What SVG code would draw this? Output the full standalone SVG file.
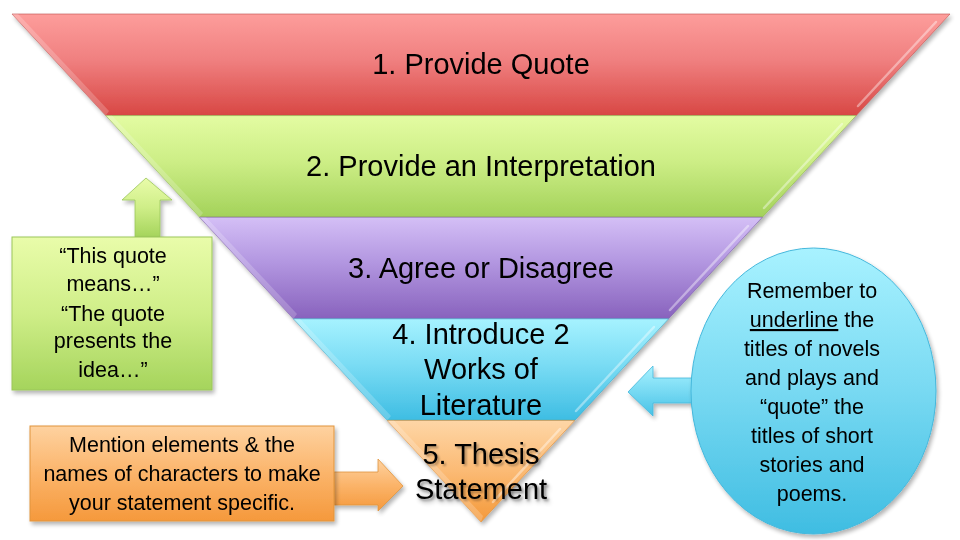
<svg xmlns="http://www.w3.org/2000/svg" width="960" height="540" viewBox="0 0 960 540">
<defs>
<linearGradient id="gRed" x1="0" y1="0" x2="0" y2="1"><stop offset="0" stop-color="#fd9d9b"/><stop offset="0.45" stop-color="#f08080"/><stop offset="1" stop-color="#d84744"/></linearGradient>
<linearGradient id="gGreen" x1="0" y1="0" x2="0" y2="1"><stop offset="0" stop-color="#e3fca2"/><stop offset="0.45" stop-color="#cdee86"/><stop offset="1" stop-color="#a3d25a"/></linearGradient>
<linearGradient id="gPurple" x1="0" y1="0" x2="0" y2="1"><stop offset="0" stop-color="#d4bff6"/><stop offset="0.45" stop-color="#b296e0"/><stop offset="1" stop-color="#8862bd"/></linearGradient>
<linearGradient id="gBlue" x1="0" y1="0" x2="0" y2="1"><stop offset="0" stop-color="#a6f2ff"/><stop offset="0.45" stop-color="#7adcf4"/><stop offset="1" stop-color="#3ebde3"/></linearGradient>
<linearGradient id="gOrange" x1="0" y1="0" x2="0" y2="1"><stop offset="0" stop-color="#fed6a6"/><stop offset="0.5" stop-color="#fbba74"/><stop offset="1" stop-color="#f4993a"/></linearGradient>
<linearGradient id="gGreenBox" x1="0" y1="0" x2="0" y2="1"><stop offset="0" stop-color="#e9fcaa"/><stop offset="0.5" stop-color="#cfee88"/><stop offset="1" stop-color="#a5d45c"/></linearGradient>
<linearGradient id="gOrangeBox" x1="0" y1="0" x2="0" y2="1"><stop offset="0" stop-color="#fed2a0"/><stop offset="0.5" stop-color="#fbb46a"/><stop offset="1" stop-color="#f5993c"/></linearGradient>
<linearGradient id="gBlueEll" x1="0" y1="0" x2="0" y2="1"><stop offset="0" stop-color="#a8f2ff"/><stop offset="0.5" stop-color="#78d9f2"/><stop offset="1" stop-color="#3fbde2"/></linearGradient>
<linearGradient id="gBlueArrow" x1="0" y1="0" x2="0" y2="1"><stop offset="0" stop-color="#a8f2ff"/><stop offset="1" stop-color="#48c2e6"/></linearGradient>
<filter id="sh" x="-10%" y="-10%" width="130%" height="130%"><feGaussianBlur in="SourceAlpha" stdDeviation="2"/><feOffset dx="2" dy="3"/><feComponentTransfer><feFuncA type="linear" slope="0.3"/></feComponentTransfer><feMerge><feMergeNode/><feMergeNode in="SourceGraphic"/></feMerge></filter>
<filter id="tsh" x="-5%" y="-20%" width="110%" height="140%"><feGaussianBlur in="SourceAlpha" stdDeviation="1"/><feOffset dx="1.5" dy="1.5"/><feComponentTransfer><feFuncA type="linear" slope="0.3"/></feComponentTransfer><feMerge><feMergeNode/><feMergeNode in="SourceGraphic"/></feMerge></filter>
</defs>
<style>
.band{stroke-width:1;}
.bt{font-family:"Liberation Sans",Arial,sans-serif;font-size:29px;fill:#000;text-anchor:middle;}
.st{font-family:"Liberation Sans",Arial,sans-serif;font-size:21.5px;fill:#000;text-anchor:middle;}
.hlL{fill:#ffffff;fill-opacity:0.2;}
.hlR{stroke:#ffffff;stroke-opacity:0.4;stroke-width:2.5;fill:none;stroke-linecap:round;}
</style>
<rect width="960" height="540" fill="#ffffff"/>

<g id="band1" filter="url(#sh)">
<polygon class="band" points="12,14 950,14 856.2,115.6 105.8,115.6" fill="url(#gRed)" stroke="#c0504d" stroke-opacity="0.6"/>
<polygon class="hlL" points="12,14 18,14 109,111 105.8,115.6"/>
<line class="hlR" x1="936" y1="22" x2="858" y2="106"/>
<text class="bt" x="481" y="74">1. Provide Quote</text>
</g>
<g id="band2" filter="url(#sh)">
<polygon class="band" points="105.8,115.6 856.2,115.6 762.4,217.2 199.6,217.2" fill="url(#gGreen)" stroke="#8cb44a" stroke-opacity="0.6"/>
<polygon class="hlL" points="105.8,115.6 112,115.6 203,213 199.6,217.2"/>
<line class="hlR" x1="842" y1="124" x2="764" y2="208"/>
<text class="bt" x="481" y="176">2. Provide an Interpretation</text>
</g>
<g id="band3" filter="url(#sh)">
<polygon class="band" points="199.6,217.2 762.4,217.2 668.6,318.8 293.4,318.8" fill="url(#gPurple)" stroke="#7a58a8" stroke-opacity="0.6"/>
<polygon class="hlL" points="199.6,217.2 206,217.2 297,314 293.4,318.8"/>
<line class="hlR" x1="748" y1="226" x2="670" y2="310"/>
<text class="bt" x="481" y="278">3. Agree or Disagree</text>
</g>
<g id="band4" filter="url(#sh)">
<polygon class="band" points="293.4,318.8 668.6,318.8 574.8,420.4 387.2,420.4" fill="url(#gBlue)" stroke="#3aa8c8" stroke-opacity="0.6"/>
<polygon class="hlL" points="293.4,318.8 300,318.8 391,416 387.2,420.4"/>
<line class="hlR" x1="654" y1="327" x2="576" y2="411"/>
<text class="bt" x="481" y="344">4. Introduce 2</text>
<text class="bt" x="481" y="379">Works of</text>
<text class="bt" x="481" y="415">Literature</text>
</g>
<g id="band5" filter="url(#sh)">
<polygon class="band" points="387.2,420.4 574.8,420.4 481,522" fill="url(#gOrange)" stroke="#e08a30" stroke-opacity="0.6"/>
<polygon class="hlL" points="387.2,420.4 394,420.4 483,516 481,522"/>
<line class="hlR" x1="560" y1="429" x2="493" y2="502"/>
<g filter="url(#tsh)">
<text class="bt" x="481" y="464">5. Thesis</text>
<text class="bt" x="481" y="499">Statement</text>
</g>
</g>

<g id="connectors">
<polygon id="arrowUp" filter="url(#sh)" points="146,178 172,200 160,200 160,237 135,237 135,200 122,200" fill="url(#gGreenBox)" stroke="#9bc65a" stroke-width="0.8"/>
<polygon id="arrowRight" filter="url(#sh)" points="334,472 378,472 378,459 403,486 378,511 378,505 334,505" fill="url(#gOrangeBox)" stroke="#e0943c" stroke-width="0.8"/>
<polygon id="arrowLeft" filter="url(#sh)" points="628,392 653,366 653,378 694,378 694,403 653,403 653,416" fill="url(#gBlueArrow)" stroke="#45b8dc" stroke-width="0.8"/>
</g>

<g id="greenBox" filter="url(#sh)">
<rect x="12" y="237" width="200" height="153" fill="url(#gGreenBox)" stroke="#9bc65a" stroke-width="1"/>
<text class="st" x="113" y="263">“This quote</text>
<text class="st" x="113" y="291">means…”</text>
<text class="st" x="113" y="321">“The quote</text>
<text class="st" x="113" y="348">presents the</text>
<text class="st" x="113" y="377">idea…”</text>
</g>

<g id="orangeBox" filter="url(#sh)">
<rect x="30" y="426" width="304" height="95" fill="url(#gOrangeBox)" stroke="#e0943c" stroke-width="1"/>
<text class="st" x="182" y="452">Mention elements &amp; the</text>
<text class="st" x="182" y="481">names of characters to make</text>
<text class="st" x="182" y="510">your statement specific.</text>
</g>

<g id="blueEllipse" filter="url(#sh)">
<ellipse cx="813.5" cy="391" rx="122.5" ry="143" fill="url(#gBlueEll)" stroke="#45b8dc" stroke-width="1"/>
<text class="st" x="812" y="298">Remember to</text>
<text class="st" x="812" y="327"><tspan text-decoration="underline">underline</tspan> the</text>
<text class="st" x="812" y="356">titles of novels</text>
<text class="st" x="812" y="385">and plays and</text>
<text class="st" x="812" y="414">“quote” the</text>
<text class="st" x="812" y="443">titles of short</text>
<text class="st" x="812" y="472">stories and</text>
<text class="st" x="812" y="501">poems.</text>
</g>
</svg>
